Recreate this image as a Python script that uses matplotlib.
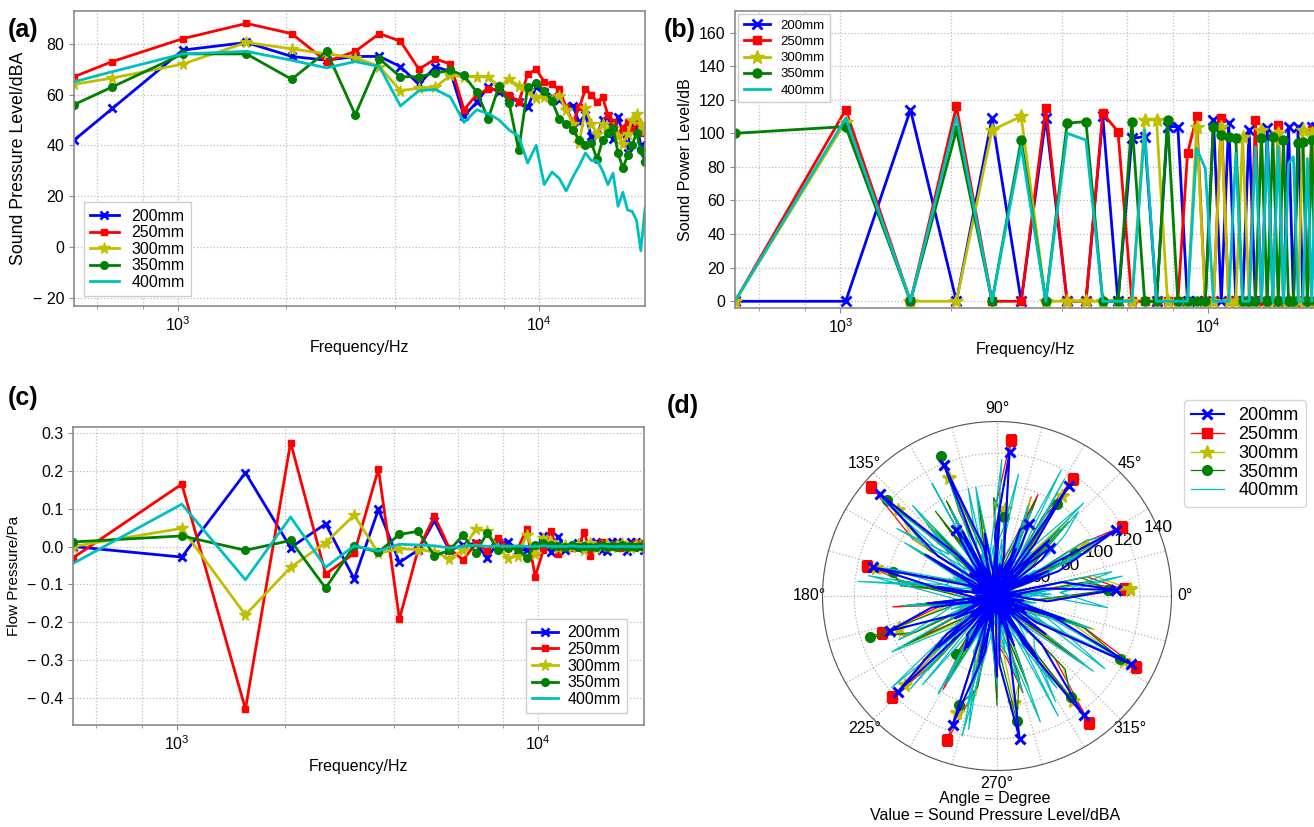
import numpy as np
import matplotlib
matplotlib.use('Agg')
import matplotlib.pyplot as plt
from matplotlib.ticker import LogLocator, NullFormatter, FuncFormatter, FixedLocator

plt.rcParams['font.family'] = ['Liberation Sans', 'DejaVu Sans']
plt.rcParams['axes.unicode_minus'] = True

# series
names = ['200mm', '250mm', '300mm', '350mm', '400mm']
colors = ['b', 'r', 'y', 'g', 'c']
markers = ['x', 's', '*', 'o', None]

# (a) sound pressure level vs frequency
freq_a = [517, 660, 1034, 1551, 2068, 2585, 3102, 3619, 4136, 4653, 5170, 5687, 6204,
          6721, 7238, 7755, 8272, 8789, 9306, 9823, 10340, 10857, 11374, 11891, 12408,
          12925, 13442, 13959, 14476, 14993, 15510, 16027, 16544, 17061, 17578, 18095,
          18612, 19129, 19646]
spl_200 = [42, 54.5, 77.5, 80.5, 75, 73.5, 75, 75, 71, 64, 71, 69, 51.5, 57, 63, 61, 59, 57,
           55, 63, 61, 59, 58, 55.5, 55.5, 49, 52, 43.5, 44, 50, 51.5, 42.5, 51, 45, 39.5,
           48, 48, 40, 35]
spl_250 = [67, 73, 82, 88, 84, 73, 77, 84, 81, 70, 74, 72, 54, 60, 62, 62, 60, 57, 68, 70,
           65, 64, 62, 55, 49, 55, 62, 60, 57, 59, 52, 49, 44, 47, 49, 46, 49, 45, 46]
spl_300 = [64, 66.5, 72, 80.5, 78, 76, 74.5, 71, 61.5, 62.5, 63, 67.5, 67, 67, 67, 63, 66,
           63.5, 61.5, 58.5, 59, 58, 59.5, 54, 48.5, 41, 54.5, 48.5, 44.5, 48.5, 45.5, 47,
           43.5, 40.5, 44.5, 50, 52.5, 48.5, 46]
spl_350 = [56, 63, 76, 76, 66, 77, 52, 74, 67, 67, 68.5, 69.5, 67.5, 61, 50.5, 63.5, 56.5,
           38, 63, 64.5, 61.5, 57.5, 50.5, 48.5, 46, 42, 40, 41, 34.5, 42, 45, 47, 37, 31,
           36, 40, 45, 38, 33.5]
spl_400 = [65, 69, 76, 77, 73.5, 70.5, 73, 71, 55.5, 61.5, 62, 59, 49, 54, 52.5, 50, 46,
           43.5, 33, 40, 24.5, 29.5, 27, 22, 27.5, 32, 37, 34, 34, 30, 24.5, 29, 16, 21.5,
           14.5, 14, 10.5, -1.5, 15]

# (b) and (c) share one frequency axis
freq = [517, 1034, 1551, 2068, 2585, 3102, 3619, 4136, 4653, 5170, 5687, 6204, 6721, 7238,
        7755, 8272, 8789, 9306, 9823, 10340, 10857, 11374, 11891, 12408, 12925, 13442,
        13959, 14476, 14993, 15510, 16027, 16544, 17061, 17578, 18095, 18612, 19129, 19646]
swl_200 = [0, 0, 114, 0, 109, 0, 109, 0, 0, 110, 0, 97, 98, 0, 104, 104, 0, 0, 0, 108, 0,
           106, 0, 0, 102, 0, 0, 103, 0, 0, 0, 104, 0, 104, 0, 0, 104, 104]
swl_250 = [0, 114, 0, 116, 0, 0, 115, 0, 0, 112, 101, 0, 0, 0, 0, 0, 88, 110, 0, 0, 109, 0,
           0, 0, 0, 108, 0, 0, 0, 105, 0, 0, 0, 0, 0, 0, 102, 0]
swl_300 = [0, 107, 0, 0, 102, 110, 0, 0, 0, 0, 0, 0, 108, 108, 0, 0, 0, 104, 0, 0, 104, 0,
           0, 98, 0, 0, 102, 0, 0, 100, 0, 0, 0, 0, 102, 0, 100, 0]
swl_350 = [100, 104, 0, 102, 0, 96, 0, 106, 107, 0, 0, 107, 0, 0, 108, 0, 0, 0, 0, 104, 99,
           98, 97, 0, 0, 0, 97, 0, 98, 0, 96, 0, 0, 94, 95, 0, 96, 0]
swl_400 = [0, 109, 0, 110, 0, 92, 0, 100, 96, 0, 0, 0, 102, 0, 0, 0, 0, 91, 79, 0, 0, 0, 88,
           0, 0, 92, 0, 95, 0, 92, 0, 82, 86, 0, 0, 85, 0, 90]

fp_200 = [0.0, -0.028, 0.195, -0.003, 0.06, -0.086, 0.098, -0.042, -0.01, 0.068, -0.01,
          0.004, 0.008, -0.03, 0.012, 0.012, -0.008, -0.01, -0.012, 0.028, -0.014, 0.026,
          -0.008, 0.0, 0.008, -0.005, 0.0, 0.012, -0.008, -0.012, 0.012, 0.012, 0.0, -0.012,
          0.012, 0.012, 0.0, -0.01]
fp_250 = [-0.03, 0.165, -0.43, 0.275, -0.073, -0.018, 0.205, -0.192, -0.01, 0.08, -0.005,
          -0.036, 0.008, -0.012, 0.022, -0.004, -0.006, 0.046, -0.08, -0.01, 0.042, -0.02,
          0.0, -0.004, 0.002, 0.038, -0.025, 0.004, 0.012, -0.004, 0.002, 0.006, -0.004,
          0.004, 0.0, 0.008, 0.01, 0.006]
fp_300 = [0.0, 0.048, -0.181, -0.055, 0.01, 0.083, -0.018, -0.006, -0.008, -0.014, -0.032,
          -0.01, 0.046, 0.04, -0.004, -0.03, -0.026, 0.03, -0.02, 0.022, 0.012, -0.004,
          0.004, -0.002, 0.006, -0.01, 0.008, -0.004, 0.002, 0.006, -0.002, 0.004, 0.008,
          0.002, -0.004, 0.006, 0.004, 0.0]
fp_350 = [0.012, 0.028, -0.01, 0.016, -0.11, 0.002, -0.015, 0.032, 0.04, -0.024, -0.01,
          0.03, -0.016, 0.036, -0.01, -0.005, -0.006, -0.03, 0.005, 0.008, 0.004, 0.002,
          0.0, 0.004, -0.002, 0.002, 0.0, -0.002, 0.004, 0.0, 0.002, 0.0, 0.004, 0.0,
          0.002, 0.0, 0.002, 0.0]
fp_400 = [-0.045, 0.112, -0.088, 0.078, -0.055, 0.002, -0.012, 0.006, 0.004, 0.002,
          -0.004, 0.0, 0.004, 0.0, 0.002, 0.0, 0.002, 0.0, 0.0, 0.002, 0.0, 0.0, 0.0,
          0.002, 0.0, 0.0, 0.0, 0.0, 0.002, 0.0, 0.0, 0.0, 0.0, 0.0, 0.0, 0.0, 0.0, 0.0]

# (d) polar directivity (angle in degrees, in measurement order)
theta_deg = [3, 9, 196, 22, 29, 32, 216, 39, 42, 46, 230, 54, 57, 60, 242, 64, 66, 71, 256,
             80, 85, 92, 278, 105, 112, 114, 297, 120, 122, 126, 310, 134, 139, 146, 333,
             160, 167, 174, 2, 190, 198, 204, 31, 217, 224, 227, 50, 232, 235, 239, 63,
             247, 251, 258, 85, 272, 279, 285, 112, 299, 306, 313, 140, 326, 333, 340,
             166, 354, 363,
             12, 190, 26, 205, 47, 222, 68, 250, 88, 262, 101, 285, 118, 300, 133, 318,
             150, 330, 171, 350, 186, 7, 208, 34, 221, 52, 240, 73, 255, 94, 270, 110,
             289, 127, 303, 143, 322, 157, 341, 178]
pol_200 = [105, 60, 46, 72, 116, 50, 50, 66, 75, 58, 42, 70, 113, 48, 52, 64, 80, 74, 44,
           55, 121, 68, 48, 62, 119, 52, 51, 71, 79, 57, 43, 66, 128, 75, 49, 50, 110, 63,
           45, 72, 101, 58, 53, 69, 117, 54, 41, 61, 62, 70, 47, 52, 116, 66, 50, 73, 121,
           56, 44, 64, 123, 71, 52, 59, 125, 67, 46, 62, 105,
           72, 48, 66, 44, 78, 50, 62, 46, 80, 52, 70, 43, 76, 49, 64, 45, 82, 51, 68, 47,
           74, 42, 60, 53, 79, 46, 67, 50, 73, 44, 81, 48, 63, 52, 77, 45, 69, 49, 75, 43]
pol_250 = [110, 85, 44, 48, 120, 92, 48, 60, 58, 78, 40, 45, 118, 88, 46, 55, 60, 96, 50,
           50, 129, 82, 42, 64, 55, 90, 47, 47, 64, 86, 45, 58, 135, 94, 41, 52, 114, 80,
           49, 66, 106, 91, 43, 49, 122, 84, 46, 57, 66, 95, 51, 53, 126, 87, 44, 62, 70,
           93, 48, 46, 129, 83, 42, 59, 128, 89, 45, 56, 110,
           88, 46, 95, 42, 84, 50, 99, 44, 90, 48, 86, 52, 97, 45, 83, 49, 93, 43, 89, 51,
           96, 47, 85, 44, 92, 50, 98, 46, 87, 42, 94, 48, 82, 52, 91, 45, 100, 49, 86, 43]
pol_300 = [114, 78, 42, 55, 95, 88, 47, 47, 62, 92, 45, 60, 105, 81, 50, 52, 58, 95, 41,
           58, 85, 86, 48, 49, 110, 90, 44, 63, 60, 79, 46, 54, 113, 93, 43, 48, 108, 84,
           49, 61, 95, 97, 40, 51, 111, 82, 47, 56, 60, 89, 45, 59, 108, 94, 42, 50, 98,
           85, 50, 62, 112, 91, 44, 53, 120, 80, 46, 57, 114,
           92, 44, 86, 50, 97, 46, 83, 48, 95, 42, 89, 51, 84, 47, 99, 45, 88, 49, 94, 43,
           85, 52, 96, 46, 90, 48, 82, 44, 98, 50, 87, 47, 93, 42, 89, 51, 84, 45, 95, 49]
pol_350 = [100, 90, 47, 52, 86, 83, 43, 58, 64, 95, 49, 46, 99, 87, 45, 63, 62, 80, 41,
           55, 80, 92, 50, 50, 125, 85, 46, 60, 58, 96, 44, 48, 122, 82, 48, 57, 97, 91,
           42, 53, 114, 86, 47, 61, 66, 94, 45, 49, 75, 81, 43, 56, 103, 89, 49, 64, 110,
           84, 41, 51, 109, 93, 46, 58, 117, 88, 44, 54, 100,
           85, 49, 93, 45, 88, 43, 96, 51, 82, 47, 91, 44, 98, 50, 87, 46, 83, 52, 95, 48,
           89, 42, 97, 47, 84, 51, 92, 45, 86, 49, 99, 43, 90, 46, 85, 52, 94, 48, 88, 44]
pol_400 = [70, 110, 60, 58, 108, 96, 58, 72, 88, 104, 103, 50, 66, 115, 62, 66, 55, 90,
           121, 108, 72, 60, 66, 100, 64, 54, 115, 112, 58, 70, 60, 94, 70, 106, 120, 62,
           62, 118, 64, 56, 68, 98, 70, 74, 74, 110, 62, 52, 56, 102, 119, 68, 72, 116, 66,
           60, 66, 92, 118, 106, 70, 64, 125, 112, 74, 58, 103, 100, 70,
           104, 56, 95, 62, 110, 58, 88, 64, 116, 54, 100, 60, 92, 66, 108, 57, 97, 63,
           112, 55, 90, 61, 105, 59, 118, 65, 94, 53, 102, 62, 86, 58, 114, 56, 99, 64,
           107, 60, 93, 57]

fig = plt.figure(figsize=(13.14, 8.27), dpi=100)

W, H = 1314, 827
def box(l, t, r, b):
    return [l / W, 1 - b / H, (r - l) / W, (b - t) / H]

def style_log_axes(ax, ylabel, ysize):
    ax.set_xscale('log')
    ax.set_xlim(517, 19646)
    ax.xaxis.set_minor_locator(LogLocator(base=10, subs=(2.0, 4.0, 6.0, 8.0), numticks=12))
    ax.xaxis.set_minor_formatter(NullFormatter())
    ax.grid(True, which='both', linestyle=':', color='#bdbdbd', linewidth=0.9)
    for s in ax.spines.values():
        s.set_color('#8a8a8a')
        s.set_linewidth(1.2)
    ax.tick_params(which='both', colors='#8a8a8a', labelcolor='black', labelsize=11.5)
    ax.set_xlabel('Frequency/Hz', fontsize=11.5)
    ax.set_ylabel(ylabel, fontsize=ysize)

def line_series(ax, x, ys, ms):
    for y, name, c, m in zip(ys, names, colors, markers):
        kw = {}
        if m is not None:
            kw = dict(marker=m, markersize=ms[m], markeredgewidth=2 if m == 'x' else 1)
        ax.plot(x, y, color=c, lw=2.0, label=name, **kw)

def minus_fmt(fmt):
    def f(v, pos):
        s = fmt.format(abs(v))
        return '\u2212 ' + s if v < -1e-9 else s
    return FuncFormatter(f)

ms_small = {'x': 6, 's': 5, '*': 8.5, 'o': 5.5}
ms_big = {'x': 7, 's': 6.2, '*': 10, 'o': 6.5}
leg_kw = dict(fancybox=False, framealpha=1, edgecolor='#cccccc')

# ---- (a)
ax_a = fig.add_axes(box(74, 11, 645, 306))
line_series(ax_a, freq_a, [spl_200, spl_250, spl_300, spl_350, spl_400], ms_small)
style_log_axes(ax_a, 'Sound Pressure Level/dBA', 12.8)
ax_a.set_ylim(-23.3, 92.9)
ax_a.yaxis.set_major_locator(FixedLocator([-20, 0, 20, 40, 60, 80]))
ax_a.yaxis.set_major_formatter(minus_fmt('{:.0f}'))
ax_a.legend(loc='lower left', fontsize=11.5, labelspacing=0.1, handlelength=1.8,
            borderaxespad=0.6, **leg_kw)

# ---- (b)
ax_b = fig.add_axes(box(735, 11, 1316, 308))
line_series(ax_b, freq, [swl_200, swl_250, swl_300, swl_350, swl_400], ms_big)
style_log_axes(ax_b, 'Sound Power Level/dB', 11.5)
ax_b.set_ylim(-4, 172.8)
ax_b.yaxis.set_major_locator(FixedLocator([0, 20, 40, 60, 80, 100, 120, 140, 160]))
ax_b.legend(loc='upper left', fontsize=9.5, labelspacing=0.3, handlelength=2.0,
            borderaxespad=0.25, **leg_kw)

# ---- (c)
ax_c = fig.add_axes(box(73, 427, 644, 725))
line_series(ax_c, freq, [fp_200, fp_250, fp_300, fp_350, fp_400], ms_small)
style_log_axes(ax_c, 'Flow Pressure/Pa', 11)
ax_c.set_ylim(-0.472, 0.316)
ax_c.yaxis.set_major_locator(FixedLocator([-0.4, -0.3, -0.2, -0.1, 0.0, 0.1, 0.2, 0.3]))
ax_c.yaxis.set_major_formatter(minus_fmt('{:.1f}'))
ax_c.legend(loc='lower right', fontsize=11.5, labelspacing=0.1, handlelength=1.6,
            handletextpad=0.6, bbox_to_anchor=(0.984, 0.013), **leg_kw)

# ---- (d)
ax_d = fig.add_axes(box(822.5, 421.5, 1171.5, 770.5), projection='polar')
th = np.deg2rad(theta_deg)
pol = [pol_200, pol_250, pol_300, pol_350, pol_400]
spike_idx = list(range(0, 69, 4))
for r, name, c, m in zip(pol, names, colors, markers):
    kw = {}
    if m is not None:
        kw = dict(marker=m, markersize={'x': 7, 's': 7.5, '*': 10, 'o': 7}[m],
                  markeredgewidth=2.2 if m == 'x' else 1,
                  markevery=[i for i in spike_idx if r[i] > 72])
    ax_d.plot(th, r, color=c, lw=1.5 if c == 'b' else 0.9, label=name,
              zorder=3 if c == 'b' else 2, **kw)
ax_d.set_ylim(30, 140)
ax_d.set_rticks([40, 60, 80, 100, 120, 140])
ax_d.set_yticklabels([])
for rv in [60, 80, 100, 120, 140]:
    ax_d.text(np.deg2rad(23), rv, str(rv), ha='center', va='center', fontsize=12.5,
              zorder=1)
ang = list(range(0, 360, 15))
ax_d.set_thetagrids(ang, [f'{a}\u00b0' if a % 45 == 0 else '' for a in ang], fontsize=11.5)
ax_d.tick_params(axis='x', pad=-1)
ax_d.grid(True, linestyle=':', color='#b0b0b0', linewidth=0.9)
ax_d.spines['polar'].set_color('#555555')
ax_d.legend(loc='upper left', bbox_to_anchor=(1184 / W, 1 - 400 / H),
            bbox_transform=fig.transFigure, fontsize=13, labelspacing=0.1,
            handlelength=1.8, borderaxespad=0)

fig.text(995 / W, 1 - 798 / H, 'Angle = Degree', ha='center', va='center', fontsize=11.5)
fig.text(995 / W, 1 - 816 / H, 'Value = Sound Pressure Level/dBA', ha='center', va='center',
         fontsize=11.5)

# panel letters
for t, x, y in [('(a)', 8, 30), ('(b)', 664, 30), ('(c)', 8, 398), ('(d)', 667, 406)]:
    fig.text(x / W, 1 - y / H, t, fontsize=18, fontweight='bold', ha='left', va='center')

fig.savefig('out.png', dpi=100)
